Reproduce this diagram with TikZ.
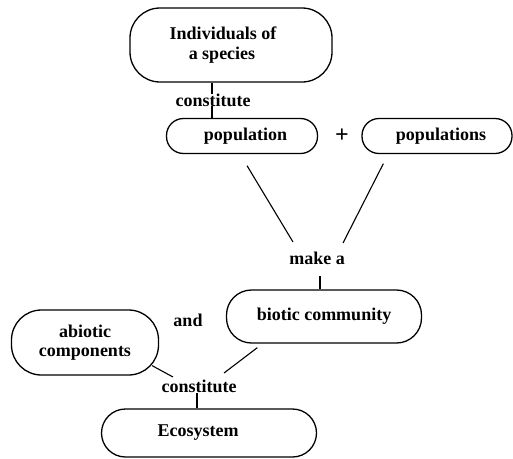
\documentclass[tikz,border=0pt]{standalone}
\usepackage{fontspec}
\setmainfont{Liberation Serif}
\begin{document}
\begin{tikzpicture}[x=1pt,y=-1pt,
  every node/.style={font=\bfseries\fontsize{18}{19.5}\selectfont},
  blob/.style={draw, line width=1.3pt, rounded corners=#1, align=center, inner sep=0pt},
  lbl/.style={inner sep=0pt},
  link/.style={line width=1.1pt}]
\useasboundingbox (0,0) rectangle (513,458);

\node[blob=30pt, minimum width=202pt, minimum height=74pt] (ind) at (231,45) {\hspace*{-16pt}Individuals of\\\hspace*{-18pt}a species};
\node[lbl] (c1) at (213,100) {constitute};
\node[blob=17pt, minimum width=151pt, minimum height=35pt] (pop) at (242,136) {\hspace*{7pt}population};
\node[lbl, font=\bfseries\fontsize{24}{24}\selectfont] (plus) at (342,136) {+};
\node[blob=17pt, minimum width=150pt, minimum height=35pt] (pops) at (437,136) {\hspace*{8pt}populations};
\node[lbl] (makea) at (317,258) {make a};
\node[blob=25pt, minimum width=195pt, minimum height=53pt] (bio) at (324,316.5) {biotic community};
\node[lbl] (and) at (188,320) {and};
\node[blob=30pt, minimum width=147pt, minimum height=65pt] (abio) at (85,342.5) {abiotic\\components};
\node[lbl] (c2) at (199,386) {constitute};
\node[blob=24pt, minimum width=215pt, minimum height=48pt] (eco) at (209,433) {\hspace*{-22pt}Ecosystem};

\draw[link] ([xshift=-1pt,yshift=6pt]c1.center) coordinate (t1) -- (t1 |- ind.south);
\draw[link] ([xshift=-1pt,yshift=-6pt]c1.center) coordinate (t2) -- (t2 |- pop.north);
\draw[link] ([shift={(5pt,-11.5pt)}]pop.south) -- ([shift={(-24pt,16pt)}]makea.center);
\draw[link] ([shift={(22pt,-9.5pt)}]pops.south west) -- ([shift={(26pt,15pt)}]makea.center);
\draw[link] ([shift={(3pt,-18pt)}]makea.center) coordinate (t3) -- (t3 |- bio.north);
\draw[link] ([shift={(-7pt,10pt)}]abio.south east) -- ([shift={(-26pt,9pt)}]c2.center);
\draw[link] ([shift={(31.5pt,-4pt)}]bio.south west) -- ([shift={(25pt,13pt)}]c2.center);
\draw[link] ([shift={(-2pt,-7pt)}]c2.center) coordinate (t4) -- (t4 |- eco.north);
\end{tikzpicture}
\end{document}
